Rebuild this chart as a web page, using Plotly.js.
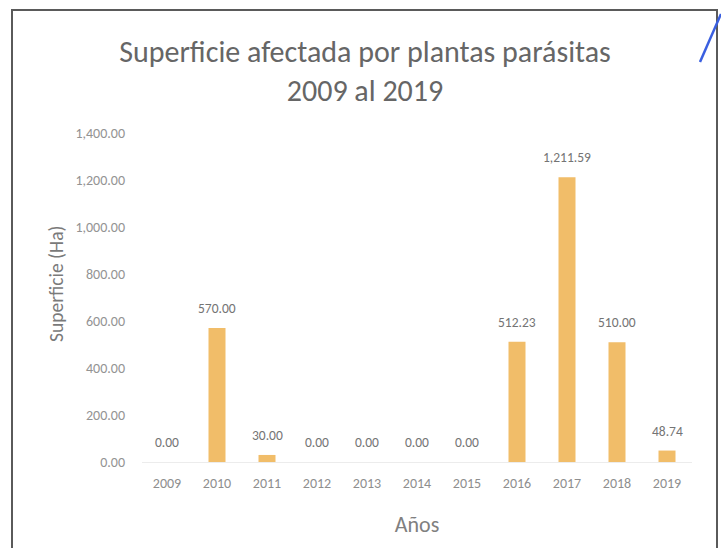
<!DOCTYPE html>
<html>
<head>
<meta charset="utf-8">
<script src="https://cdn.plot.ly/plotly-3.0.1.min.js"></script>
<style>html,body{margin:0;padding:0;background:#fff;}#chart{width:721px;height:548px;}</style>
</head>
<body>
<div id="chart"></div>
<script>
const years = ['2009','2010','2011','2012','2013','2014','2015','2016','2017','2018','2019'];
const superficie = [0, 570, 30, 0, 0, 0, 0, 512.23, 1211.59, 510, 48.74];
const yTicks = [0, 200, 400, 600, 800, 1000, 1200, 1400];

const fontFam = 'Carlito, Calibri, Lato, "Open Sans", sans-serif';
const fmt = v => v.toLocaleString('en-US', {minimumFractionDigits: 2, maximumFractionDigits: 2});

const L = 142, R = 29, T = 133, B = 86, W = 721, H = 548;
const pw = W - L - R, ph = H - T - B;
const px = x => (x - L) / pw;
const py = y => (H - B - y) / ph;

const trace = {
  type: 'bar',
  x: years,
  y: superficie,
  marker: {color: '#F1BD69'},
  hoverinfo: 'x+y'
};

const labelAnnotations = years.map((yr, i) => ({
  x: i, y: superficie[i], xref: 'x', yref: 'y',
  text: fmt(superficie[i]),
  showarrow: false, yanchor: 'bottom', yshift: 9,
  font: {family: fontFam, size: 13.5, color: '#747474'}
}));

const layout = {
  width: W, height: H,
  margin: {l: L, r: R, t: T, b: B},
  paper_bgcolor: '#ffffff', plot_bgcolor: '#ffffff',
  bargap: 0.66,
  showlegend: false,
  font: {family: fontFam, color: '#7f7f7f'},
  title: {
    text: 'Superficie afectada por plantas parásitas<br>2009 al 2019',
    font: {family: fontFam, size: 30, color: '#666666'},
    x: 365/721, xanchor: 'center', xref: 'container',
    y: 1 - 62/548, yanchor: 'middle', yref: 'container'
  },
  xaxis: {
    type: 'category',
    categoryorder: 'array', categoryarray: years,
    range: [-0.5, years.length - 0.5],
    showgrid: false, zeroline: false, showline: false,
    ticks: '',
    ticklabelstandoff: 11,
    tickfont: {family: fontFam, size: 14, color: '#8e8e8e'},
    title: {text: 'Años', font: {family: fontFam, size: 22, color: '#808080'}, standoff: 25}
  },
  yaxis: {
    range: [0, 1400],
    tickvals: yTicks,
    ticktext: yTicks.map(fmt),
    showgrid: false,
    zeroline: true, zerolinecolor: '#ececec', zerolinewidth: 1,
    showline: false, ticks: '',
    ticklabelstandoff: 16,
    tickfont: {family: fontFam, size: 14, color: '#939393'},
    title: {text: ''}
  },
  annotations: labelAnnotations.concat([
    {xref: 'paper', yref: 'paper', x: px(56), y: py(284),
     text: 'Superficie (Ha)', textangle: -90, showarrow: false,
     xanchor: 'center', yanchor: 'middle',
     font: {family: fontFam, size: 19.5, color: '#7a7a7a'}}
  ]),
  shapes: [
    {type: 'rect', xref: 'paper', yref: 'paper',
     x0: px(12), x1: px(717), y0: py(552), y1: py(10),
     line: {color: '#5a5a5a', width: 2}, fillcolor: 'rgba(0,0,0,0)', layer: 'above'},
    {type: 'line', xref: 'paper', yref: 'paper',
     x0: px(700), y0: py(62), x1: px(721), y1: py(14),
     line: {color: '#3a5fe0', width: 2.5}}
  ]
};

Plotly.newPlot('chart', [trace], layout, {displayModeBar: false, staticPlot: true});
</script>
</body>
</html>
